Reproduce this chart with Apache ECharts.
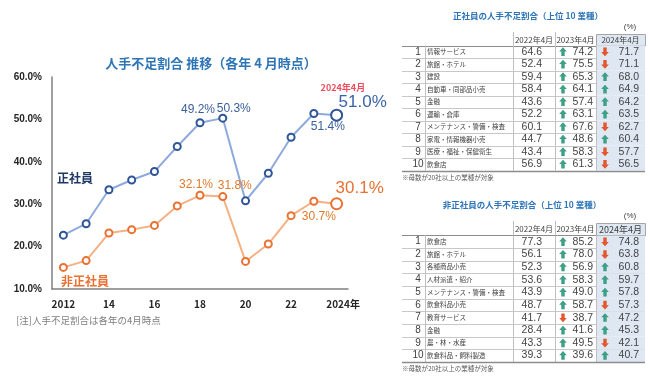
<!DOCTYPE html>
<html><head><meta charset="utf-8">
<script src="https://cdn.jsdelivr.net/npm/echarts@6/dist/echarts.min.js"></script>
<style>html,body{margin:0;padding:0;background:#fff}#c{width:650px;height:380px}</style>
</head><body><div id="c"></div>
<script>
// ---------- line chart data ----------
const years = ['2012','2013','2014','2015','2016','2017','2018','2019','2020','2021','2022','2023','2024'];
const xTickLabels = ['2012','','14','','16','','18','','20','','22','','2024年'];
const regularRate = [22.7,25.4,33.4,35.7,37.7,43.6,49.2,50.3,30.8,37.3,45.8,51.4,51.0];
const nonRegularRate = [15.1,16.7,23.2,24.0,25.0,29.6,32.1,31.8,16.5,20.6,27.3,30.7,30.1];
const labeledIdx = [6,7,11];

// ---------- table data ----------
const tableHeaders = ['2022年4月','2023年4月','2024年4月'];
const regNames = ['情報サービス','旅館・ホテル','建設','自動車・同部品小売','金融','運輸・倉庫','メンテナンス・警備・検査','家電・情報機器小売','医療・福祉・保健衛生','飲食店'];
const reg2022 = [64.6,52.4,59.4,58.4,43.6,52.2,60.1,44.7,43.4,56.9];
const reg2023 = [74.2,75.5,65.3,64.1,57.4,63.1,67.6,48.6,58.3,61.3];
const reg2024 = [71.7,71.1,68.0,64.9,64.2,63.5,62.7,60.4,57.7,56.5];
const nonNames = ['飲食店','旅館・ホテル','各種商品小売','人材派遣・紹介','メンテナンス・警備・検査','飲食料品小売','教育サービス','金融','農・林・水産','飲食料品・飼料製造'];
const non2022 = [77.3,56.1,52.3,53.6,43.9,48.7,41.7,28.4,43.3,39.3];
const non2023 = [85.2,78.0,56.9,58.3,49.0,58.7,38.7,41.6,49.5,39.6];
const non2024 = [74.8,63.8,60.8,59.7,57.8,57.3,47.2,45.3,42.1,40.7];

const JP = '"Noto Sans CJK JP", sans-serif';
const LAT = '"Liberation Sans", Arial, sans-serif';
const BLUE_LINE = '#8FAADC', BLUE_MK = '#2F5597', BLUE_TX = '#3A5F9A';
const OR_LINE = '#F4B183', OR_MK = '#E97132', OR_TX = '#E07A2C';
const UP = '#3D9F86', DOWN = '#E4572E';

// table column layout (px relative to table left)
const COL = [0, 23, 111, 153, 194, 243];
const TBL_LEFT = 402;
const T1 = {headTop: 34, headH: 11.5, rowH: 12.5, head24Size: 8};
const T2 = {headTop: 223, headH: 12.4, rowH: 12.65, head24Size: 9};

function pct(v){ return v.toFixed(1) + '%'; }

function buildLineData(arr, color, bigColor, withDate) {
  return arr.map((v, i) => {
    const item = {value: v};
    if (labeledIdx.indexOf(i) >= 0) {
      item.label = {show: true, position: 'inside', formatter: p => pct(p.value),
        color: color, fontSize: 12, fontFamily: LAT};
    }
    if (i === arr.length - 1) {
      item.symbolSize = 11;
      item.label = {show: true, position: 'inside', align: 'left', verticalAlign: 'top',
        formatter: p => withDate ? '{a|' + years[i] + '年4月}\n{b|' + pct(p.value) + '}' : '{b|' + pct(p.value) + '}',
        rich: {
          a: {color: '#EF4B5C', fontSize: 9, lineHeight: 11, fontFamily: JP, fontWeight: 'bold'},
          b: {color: bigColor, fontSize: 17, lineHeight: 19, fontFamily: LAT, padding: withDate ? [0,0,0,18] : 0}
        }};
    }
    return item;
  });
}

const regData = buildLineData(regularRate, BLUE_TX, '#3A64A8', true);
const nonData = buildLineData(nonRegularRate, OR_TX, '#E97132', false);
// label offsets (style only)
const regOffsets = {6: [-2,-13], 7: [11,-9], 11: [14,13], 12: [-16,-33]};
const nonOffsets = {6: [-4,-11], 7: [12,-11], 11: [5,15], 12: [-1,-25]};
Object.keys(regOffsets).forEach(k => regData[k].label.offset = regOffsets[k]);
Object.keys(nonOffsets).forEach(k => nonData[k].label.offset = nonOffsets[k]);

function arrowPts(ax, cy, up) {
  const s = up ? 1 : -1;
  return [[ax, cy - 4.5*s], [ax + 3.8, cy - 0.3*s], [ax + 1.7, cy - 0.3*s], [ax + 1.7, cy + 4.2*s], [ax - 1.7, cy + 4.2*s], [ax - 1.7, cy - 0.3*s], [ax - 3.8, cy - 0.3*s]];
}

function tableRenderer(names, a, b, c) {
  return function(params, api) {
    const i = params.dataIndex;
    const p = api.coord([0, i]);
    const x0 = p[0], cy = p[1];
    const h = api.size([0, 1])[1];
    const top = cy - h/2, bot = cy + h/2;
    const last = i === names.length - 1;
    const ch = [];
    ch.push({type: 'rect', shape: {x: x0 + COL[4], y: top, width: COL[5] - COL[4], height: h}, style: {fill: '#DEE7F2'}});
    [COL[1], COL[2], COL[3], COL[4]].forEach(cx => ch.push({type: 'line', shape: {x1: x0 + cx + 0.5, y1: top, x2: x0 + cx + 0.5, y2: bot}, style: {stroke: '#BFBFBF', lineWidth: 1}}));
    ch.push({type: 'line', shape: {x1: x0, y1: Math.round(bot) + 0.5, x2: x0 + COL[5], y2: Math.round(bot) + 0.5}, style: {stroke: last ? '#8C8C8C' : '#C8C8C8', lineWidth: last ? 1.5 : 1}});
    const T = (text, x, align, size, font, fill) => ({type: 'text', style: {text: text, x: x, y: cy, align: align, verticalAlign: 'middle', fontSize: size, fontFamily: font, fill: fill}});
    ch.push(T(String(i + 1), x0 + 16, 'center', 10, LAT, '#404040'));
    ch.push(T(names[i], x0 + 25, 'left', 6.5, JP, '#404040'));
    ch.push(T(a[i].toFixed(1), x0 + 140, 'right', 10.5, LAT, '#444'));
    const up23 = b[i] >= a[i], up24 = c[i] >= b[i];
    ch.push({type: 'polygon', shape: {points: arrowPts(x0 + 161, cy, up23)}, style: {fill: up23 ? UP : DOWN}});
    ch.push(T(b[i].toFixed(1), x0 + 191, 'right', 10.5, LAT, '#444'));
    ch.push({type: 'polygon', shape: {points: arrowPts(x0 + 203, cy, up24)}, style: {fill: up24 ? UP : DOWN}});
    ch.push(T(c[i].toFixed(1), x0 + 237, 'right', 10.5, LAT, '#444'));
    return {type: 'group', children: ch};
  };
}

function tableHeaderGraphics(T, title, titleX) {
  const g = [];
  const hb = T.headTop + T.headH;
  const cy = T.headTop + T.headH / 2;
  g.push({type: 'text', x: titleX, y: T.headTop - 18, style: {text: title, align: 'center', verticalAlign: 'middle', fontSize: 8.5, fontWeight: 'bold', fontFamily: JP, fill: '#2E75B6'}});
  g.push({type: 'text', x: 630, y: T.headTop - 7, style: {text: '(%)', align: 'center', verticalAlign: 'middle', fontSize: 8, fontFamily: LAT, fill: '#404040'}});
  g.push({type: 'rect', shape: {x: TBL_LEFT + COL[4] + 0.5, y: T.headTop + 0.5, width: COL[5] - COL[4], height: T.headH}, style: {fill: '#DEE7F2', stroke: '#A6A6A6', lineWidth: 1}});
  [COL[2], COL[3]].forEach(cx => g.push({type: 'line', shape: {x1: TBL_LEFT + cx + 0.5, y1: T.headTop - 2, x2: TBL_LEFT + cx + 0.5, y2: hb}, style: {stroke: '#BFBFBF', lineWidth: 1}}));
  g.push({type: 'line', shape: {x1: TBL_LEFT, y1: Math.round(hb) + 0.5, x2: TBL_LEFT + COL[5], y2: Math.round(hb) + 0.5}, style: {stroke: '#8C8C8C', lineWidth: 1}});
  for (let k = 0; k < 3; k++) {
    const cx = TBL_LEFT + (COL[k + 2] + COL[k + 3]) / 2;
    g.push({type: 'text', x: cx, y: cy, style: {text: tableHeaders[k], align: 'center', verticalAlign: 'middle', fontSize: k === 2 ? T.head24Size : 8, fontFamily: JP, fill: '#404040'}});
  }
  g.push({type: 'text', x: TBL_LEFT, y: hb + 10 * T.rowH + 7, style: {text: '※母数が20社以上の業種が対象', align: 'left', verticalAlign: 'middle', fontSize: 6.5, fontFamily: JP, fill: '#595959'}});
  return g;
}

const rankCats = regNames.map((_, i) => String(i + 1));

const chart = echarts.init(document.getElementById('c'), null, {renderer: 'canvas'});
const option = {
  animation: false,
  backgroundColor: '#fff',
  grid: [
    {left: 52, top: 77, width: 296, height: 212},
    {left: TBL_LEFT, top: T1.headTop + T1.headH, width: COL[5], height: 10 * T1.rowH},
    {left: TBL_LEFT, top: T2.headTop + T2.headH, width: COL[5], height: 10 * T2.rowH}
  ],
  xAxis: [
    {gridIndex: 0, type: 'category', data: years, boundaryGap: true,
      axisLine: {lineStyle: {color: '#7F7F7F', width: 1.5}}, axisTick: {show: false},
      axisLabel: {interval: 0,
        formatter: (v, i) => i === years.length - 1 ? '{e|' + xTickLabels[i] + '}' : xTickLabels[i],
        rich: {e: {color: '#262626', fontSize: 10, fontWeight: 'bold', fontFamily: JP, padding: [0, 0, 0, 13]}},
        color: '#262626', fontSize: 10, fontWeight: 'bold', fontFamily: JP, margin: 10}},
    {gridIndex: 1, type: 'value', min: 0, max: COL[5], show: false},
    {gridIndex: 2, type: 'value', min: 0, max: COL[5], show: false}
  ],
  yAxis: [
    {gridIndex: 0, type: 'value', min: 10, max: 60, interval: 10,
      axisLine: {show: true, lineStyle: {color: '#7F7F7F', width: 1.5}}, axisTick: {show: false}, splitLine: {show: false},
      axisLabel: {formatter: v => v.toFixed(1) + '%', color: '#262626', fontSize: 10, fontWeight: 'bold', fontFamily: LAT, margin: 10}},
    {gridIndex: 1, type: 'category', data: rankCats, inverse: true, show: false},
    {gridIndex: 2, type: 'category', data: rankCats, inverse: true, show: false}
  ],
  series: [
    {type: 'line', xAxisIndex: 0, yAxisIndex: 0, data: regData, symbol: 'circle', symbolSize: 7,
      lineStyle: {color: BLUE_LINE, width: 2}, itemStyle: {color: '#fff', borderColor: BLUE_MK, borderWidth: 2}, z: 3},
    {type: 'line', xAxisIndex: 0, yAxisIndex: 0, data: nonData, symbol: 'circle', symbolSize: 7,
      lineStyle: {color: OR_LINE, width: 2}, itemStyle: {color: '#fff', borderColor: OR_MK, borderWidth: 2}, z: 3},
    {type: 'custom', xAxisIndex: 1, yAxisIndex: 1, data: regNames.map((_, i) => [0, i]),
      renderItem: tableRenderer(regNames, reg2022, reg2023, reg2024), silent: true},
    {type: 'custom', xAxisIndex: 2, yAxisIndex: 2, data: nonNames.map((_, i) => [0, i]),
      renderItem: tableRenderer(nonNames, non2022, non2023, non2024), silent: true}
  ],
  graphic: [
    {type: 'text', x: 211, y: 63, style: {text: '人手不足割合 推移（各年 4 月時点）', align: 'center', verticalAlign: 'middle', fontSize: 13, fontWeight: 'bold', fontFamily: JP, fill: '#2E75B6'}},
    {type: 'text', x: 57, y: 178, style: {text: '正社員', align: 'left', verticalAlign: 'middle', fontSize: 12, fontWeight: 'bold', fontFamily: JP, fill: '#1F3864'}},
    {type: 'text', x: 61, y: 281, style: {text: '非正社員', align: 'left', verticalAlign: 'middle', fontSize: 12, fontWeight: 'bold', fontFamily: JP, fill: '#E97132'}},
    {type: 'text', x: 16, y: 320, style: {text: '[注]人手不足割合は各年の4月時点', align: 'left', verticalAlign: 'middle', fontSize: 9.5, fontFamily: JP, fill: '#7F7F7F'}}
  ].concat(tableHeaderGraphics(T1, '正社員の人手不足割合（上位 10 業種）', 528))
   .concat(tableHeaderGraphics(T2, '非正社員の人手不足割合（上位 10 業種）', 522))
};
chart.setOption(option);
</script>
</body></html>
